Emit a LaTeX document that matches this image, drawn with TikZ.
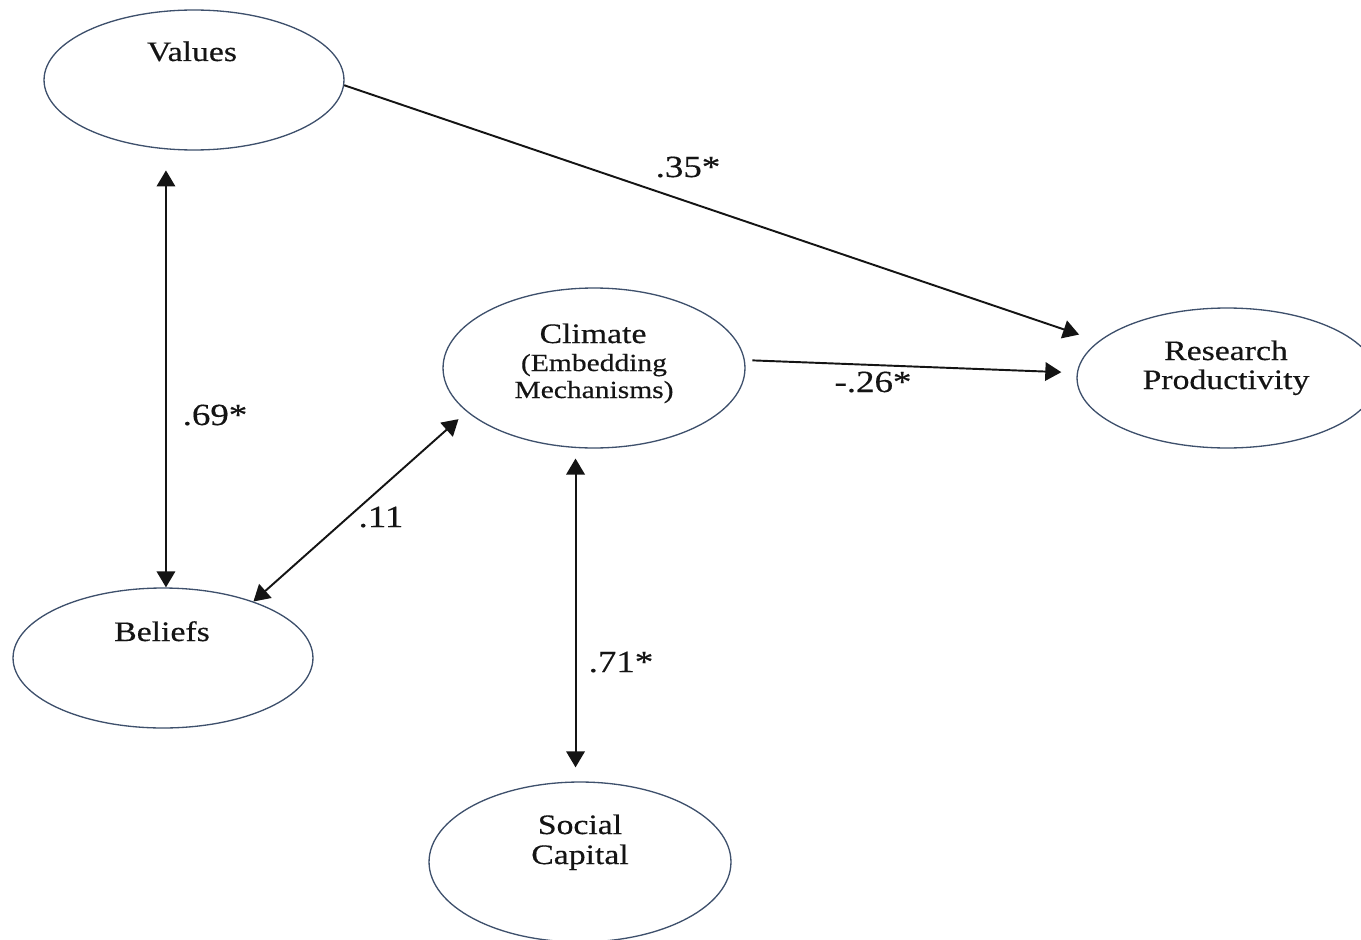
\documentclass[tikz,border=0pt]{standalone}
\usepackage{fontspec}
\setmainfont{Liberation Serif}[FakeStretch=1.2,FakeBold=0.4]
\usetikzlibrary{shapes.geometric,arrows.meta}
\definecolor{rimcol}{RGB}{62,80,108}
\definecolor{inkcol}{RGB}{20,20,20}
\begin{document}
\begin{tikzpicture}[x=0.02cm,y=-0.02cm,
  oval/.style={ellipse,draw=rimcol,line width=0.75pt,inner sep=0pt,fill=white},
  smalloval/.style={oval,minimum width=6cm,minimum height=2.8cm},
  bigoval/.style={oval,minimum width=6.04cm,minimum height=3.2cm},
  cname/.style={inner sep=0pt,anchor=base,text=inkcol,font=\fontsize{16pt}{19pt}\selectfont},
  subcname/.style={cname,font=\fontsize{14pt}{17pt}\selectfont},
  coef/.style={inner sep=0pt,anchor=base,text=inkcol,font=\fontsize{17.5pt}{20pt}\selectfont},
  head/.tip={Triangle[length=0.32cm,width=0.37cm]},
  path1/.style={draw=inkcol,line width=1.1pt,-head},
  path2/.style={draw=inkcol,line width=1.1pt,head-head}]
\useasboundingbox (0,0) rectangle (1361,939);
\clip (0,0) rectangle (1361,939);

% latent constructs
\node[smalloval] (vals) at (194,80) {};
\node[smalloval] (bel)  at (163,658) {};
\node[bigoval]   (clim) at (594,368) {};
\node[smalloval] (res)  at (1227,378) {};
\node[bigoval]   (soc)  at (580,862) {};

% construct names
\node[cname] (tvals) at (192,61) {Values};
\node[cname] (tbel)  at (162,641) {Beliefs};
\node[cname] (tclim) at (593,343) {Climate};
\node[subcname] (tclimb) at (594,371) {(Embedding};
\node[subcname] (tclimc) at (594,398) {Mechanisms)};
\node[cname] (tres)  at (1226,360) {Research};
\node[cname] (tresb) at (1226,389) {Productivity};
\node[cname] (tsoc)  at (580,834) {Social};
\node[cname] (tsocb) at (580,864) {Capital};

% structural paths
\draw[path1,shorten >=0.41cm] (vals.-2) -- (res.164.7);
\draw[path2,shorten <=0.42cm] (vals.248) -- (vals.248 |- bel.north);
\draw[path2,shorten >=0.22cm] (bel.32.3) -- (clim.199.8);
\draw[path1,shorten <=0.15cm,shorten >=0.31cm] (clim.3.9) -- (res.178);
\draw[path2,shorten <=0.21cm,shorten >=0.28cm] (clim.257.2) -- (clim.257.2 |- soc.north);

% coefficients
\node[coef] (c35) at (688,177) {.35*};
\node[coef] (c69) at (215,425) {.69*};
\node[coef] (c11) at (381,527) {.11};
\node[coef] (c26) at (873,392) {-.26*};
\node[coef] (c71) at (621,672) {.71*};
\end{tikzpicture}
\end{document}
